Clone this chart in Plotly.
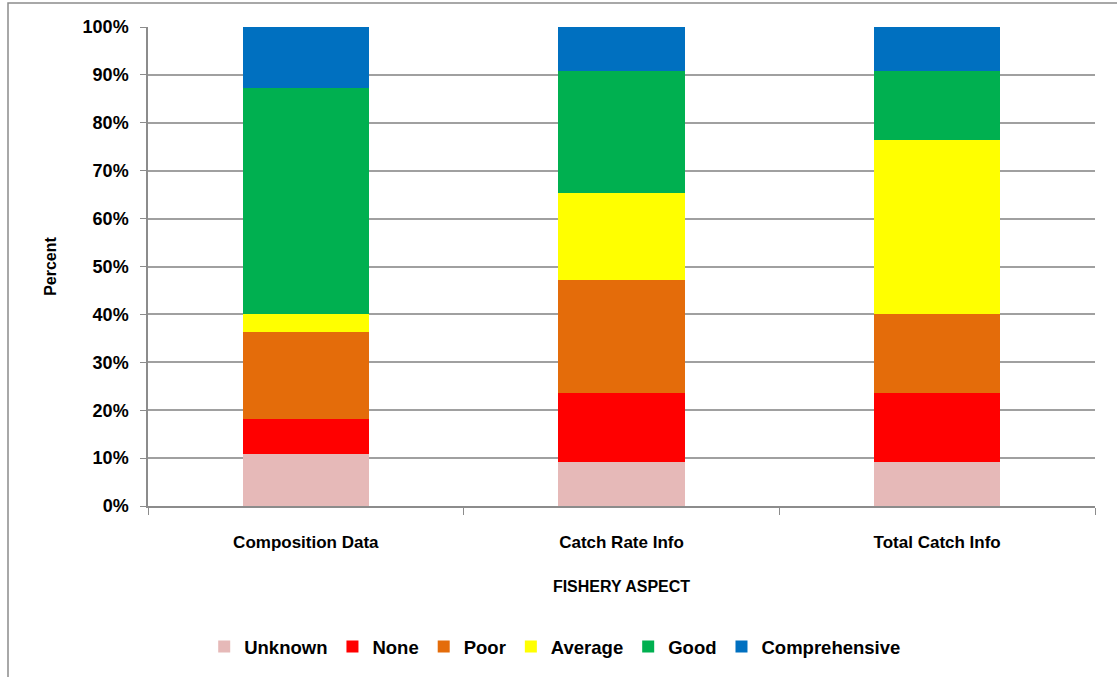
import plotly.graph_objects as go

categories = ["Composition Data", "Catch Rate Info", "Total Catch Info"]
series_names = ["Unknown", "None", "Poor", "Average", "Good", "Comprehensive"]
unknown = [10.9, 9.1, 9.1]
none_ = [7.3, 14.5, 14.5]
poor = [18.2, 23.6, 16.4]
average = [3.6, 18.2, 36.4]
good = [47.3, 25.5, 14.5]
comprehensive = [12.7, 9.1, 9.1]
colors = ["#E6B9B8", "#FF0000", "#E46C0A", "#FFFF00", "#00B050", "#0070C0"]
y_ticks = [0, 10, 20, 30, 40, 50, 60, 70, 80, 90, 100]
y_ticklabels = [f"{v}%" for v in y_ticks]

FONT = "Liberation Sans Narrow, Arial Narrow, Arial, sans-serif"

fig = go.Figure()
for name, vals, col in zip(series_names, [unknown, none_, poor, average, good, comprehensive], colors):
    fig.add_trace(go.Bar(x=categories, y=vals, name=f"<b>{name}</b>",
                         marker=dict(color=col, line=dict(width=0))))

W, H = 1117, 677
l, r, t, b = 148, 22, 27, 170
pw, ph = W - l - r, H - t - b

def px_x(x):
    return (x - l) / pw

def px_y(y):
    return (H - b - y) / ph

fig.update_layout(
    width=W, height=H,
    barmode="stack", bargap=0.6,
    margin=dict(l=l, r=r, t=t, b=b),
    paper_bgcolor="white", plot_bgcolor="white",
    font=dict(family=FONT, color="black"),
    legend=dict(orientation="h", x=0.43, xanchor="center", y=px_y(647), yanchor="middle",
                font=dict(size=18.5, family=FONT), itemwidth=30, tracegroupgap=0,
                traceorder="normal"),
    xaxis=dict(
        type="category", tickson="boundaries", ticks="outside", ticklen=7, tickcolor="#8C8C8C",
        showline=True, linecolor="#8C8C8C", linewidth=1.5,
        tickfont=dict(size=17, family=FONT), ticklabelstandoff=20,
        title=dict(text="<b>FISHERY ASPECT</b>", font=dict(size=16, family=FONT), standoff=30),
        tickprefix="<b>", ticksuffix="</b>",
    ),
    yaxis=dict(
        range=[0, 100], tickvals=y_ticks, ticktext=[f"<b>{s}</b>" for s in y_ticklabels],
        ticks="outside", ticklen=6, tickcolor="#8C8C8C",
        showline=True, linecolor="#8C8C8C", linewidth=1.5,
        showgrid=True, gridcolor="#A0A0A0", gridwidth=1.5,
        tickfont=dict(size=18, family=FONT), ticklabelstandoff=8,
        title=dict(text="<b>Percent</b>", font=dict(size=16, family=FONT), standoff=22),
        zeroline=False,
    ),
    shapes=[dict(type="rect", xref="paper", yref="paper",
                 x0=px_x(8), x1=px_x(1125), y0=px_y(690), y1=px_y(3),
                 line=dict(color="#8C8C8C", width=1.5), fillcolor="rgba(0,0,0,0)", layer="below")],
)

fig.write_html("out.html", config={"displayModeBar": False},
               post_script="document.body.style.margin='0';")
